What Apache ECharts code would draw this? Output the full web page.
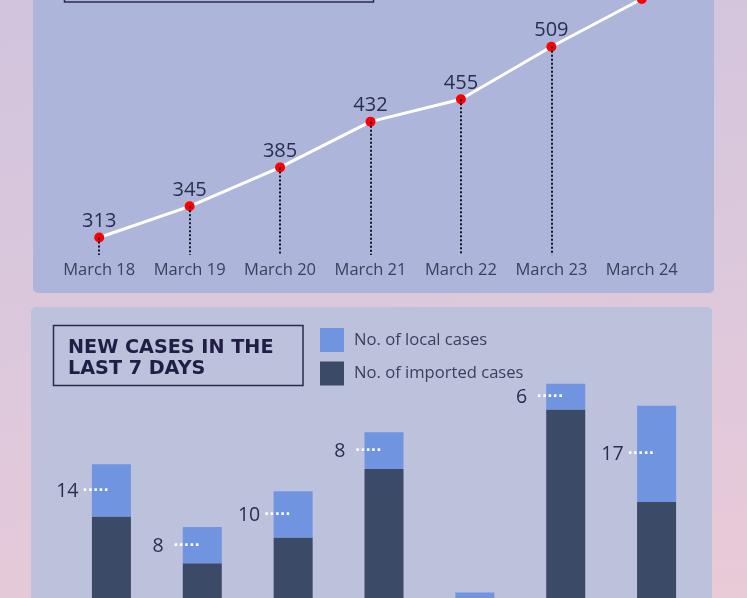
<!DOCTYPE html>
<html>
<head>
<meta charset="utf-8">
<script src="https://cdn.jsdelivr.net/npm/echarts@6/dist/echarts.min.js"></script>
<style>
  html, body { margin: 0; padding: 0; }
  #chart {
    width: 747px; height: 598px;
    background: linear-gradient(172deg, #d1c4dd 0%, #dcc8dc 50%, #e9cad7 100%);
  }
</style>
</head>
<body>
<div id="chart"></div>
<script>
var days = ['March 18', 'March 19', 'March 20', 'March 21', 'March 22', 'March 23', 'March 24'];
// total cases (top chart)
var totalCases = [313, 345, 385, 432, 455, 509, 558];
// new cases (bottom chart)
var importedCases = [32.8, 22.6, 28.2, 43.2, 11, 56.2, 36.0];
var localCases = [11.4, 7.9, 10.1, 8.0, 5.2, 5.6, 21.0];
var localLabels = ['14', '8', '10', '8', null, '6', '17'];

var lineMin = 295, lineMax = 557;
var font = 'Open Sans';

var chart = echarts.init(document.getElementById('chart'));

var dropLines = totalCases.map(function (v, i) {
  return [{ coord: [i, v] }, { coord: [i, lineMin] }];
});

var option = {
  backgroundColor: 'transparent',
  textStyle: { fontFamily: font },
  graphic: [
    { type: 'rect', z: 0, shape: { x: 33, y: -40, width: 681, height: 333, r: 5 }, style: { fill: '#adb5da' } },
    { type: 'rect', z: 1, shape: { x: 64.5, y: -40, width: 309, height: 42 }, style: { fill: 'none', stroke: '#2c2b4f', lineWidth: 1.5 } },
    { type: 'rect', z: 0, shape: { x: 31, y: 307, width: 681, height: 340, r: 5 }, style: { fill: '#bcc1dc' } },
    { type: 'rect', z: 1, shape: { x: 53.5, y: 325.5, width: 249.5, height: 60 }, style: { fill: 'none', stroke: '#2a2a4a', lineWidth: 1.5 } }
  ],
  title: {
    text: 'NEW CASES IN THE\nLAST 7 DAYS',
    left: 63,
    top: 333,
    textStyle: { fontFamily: 'DejaVu Sans', fontSize: 19.2, fontWeight: 'bold', color: '#1f1e45', lineHeight: 21 }
  },
  legend: {
    data: ['No. of local cases', 'No. of imported cases'],
    orient: 'vertical',
    left: 320,
    top: 328,
    padding: 0,
    itemWidth: 24,
    itemHeight: 24,
    itemGap: 9.5,
    icon: 'rect',
    selectedMode: false,
    textStyle: { fontFamily: font, fontSize: 16.6, color: '#3a3f5a', padding: [0, 0, 0, 5] }
  },
  grid: [
    { left: 54, right: 60, top: 0, bottom: 343 },
    { left: 66, right: 45, top: 360, bottom: 0 }
  ],
  xAxis: [
    {
      gridIndex: 0, type: 'category', data: days,
      axisLine: { show: false }, axisTick: { show: false },
      axisLabel: { interval: 0, margin: 7, fontSize: 16.5, color: '#3c405e', fontFamily: font }
    },
    {
      gridIndex: 1, type: 'category', data: days,
      axisLine: { show: false }, axisTick: { show: false }, axisLabel: { show: false }
    }
  ],
  yAxis: [
    { gridIndex: 0, type: 'value', min: lineMin, max: lineMax, show: false, splitLine: { show: false } },
    { gridIndex: 1, type: 'value', min: 15, max: 67, show: false, splitLine: { show: false } }
  ],
  series: [
    {
      type: 'line', xAxisIndex: 0, yAxisIndex: 0, z: 1,
      data: totalCases, symbol: 'none', silent: true,
      lineStyle: { opacity: 0 },
      markLine: {
        silent: true, symbol: ['none', 'none'],
        label: { show: false },
        lineStyle: { type: 'dotted', color: '#15152a', width: 2 },
        data: dropLines
      }
    },
    {
      type: 'line', xAxisIndex: 0, yAxisIndex: 0, z: 3,
      data: totalCases, clip: false,
      symbol: 'circle', symbolSize: 10,
      lineStyle: { color: '#ffffff', width: 3 },
      itemStyle: { color: '#ff0000' },
      label: { show: true, position: 'top', distance: 1, fontSize: 20, color: '#2b2d4d', fontFamily: font }
    },
    {
      name: 'No. of imported cases', type: 'bar', stack: 'cases',
      xAxisIndex: 1, yAxisIndex: 1, barWidth: 39,
      data: importedCases,
      itemStyle: { color: '#3b4a66' }
    },
    {
      name: 'No. of local cases', type: 'bar', stack: 'cases',
      xAxisIndex: 1, yAxisIndex: 1, barWidth: 39,
      data: localCases,
      itemStyle: { color: '#7094e0' },
      label: {
        show: true, position: 'left', distance: 0, offset: [17, 1],
        formatter: function (p) {
          var t = localLabels[p.dataIndex];
          return t == null ? '' : '{n|' + t + '}{d|·····}';
        },
        rich: {
          n: { width: 30, align: 'center', fontSize: 19.5, color: '#2b2d4d', fontFamily: font },
          d: { fontSize: 14, fontWeight: 'bold', color: '#ffffff', fontFamily: 'DejaVu Sans' }
        }
      }
    }
  ]
};
chart.setOption(option);
</script>
</body>
</html>
